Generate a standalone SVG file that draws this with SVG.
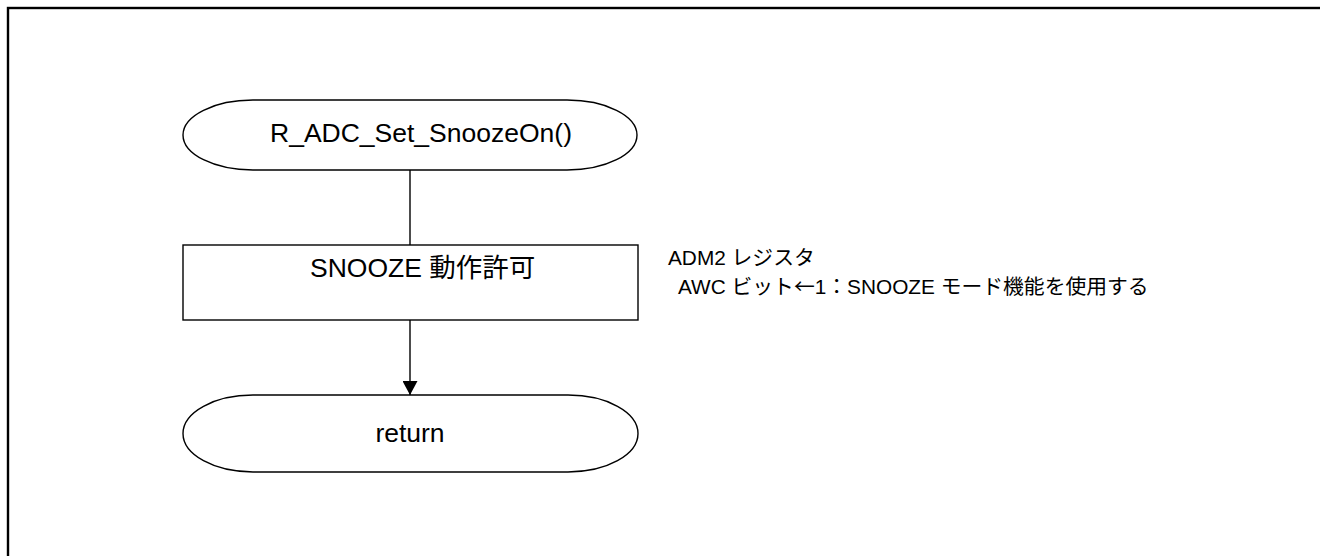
<svg xmlns="http://www.w3.org/2000/svg" width="1320" height="556" viewBox="0 0 1320 556">
<defs>
<style>
.shape{fill:#fff;stroke:#000;stroke-width:1.4}
.conn{fill:none;stroke:#000;stroke-width:1.4}
.t{font-family:"Liberation Sans","Noto Sans CJK JP",Arial,sans-serif;fill:#000}
.cjk{font-family:"Noto Sans CJK JP","Liberation Sans",sans-serif}
.big{font-size:26.5px}
.small{font-size:20.8px}
</style>
<marker id="arr" markerWidth="16" markerHeight="15" refX="15" refY="8" orient="auto" markerUnits="userSpaceOnUse" viewBox="0 0 16 16">
<path d="M0,0 L15,8 L0,16 Z" fill="#000"/>
</marker>
</defs>
<rect x="8" y="8" width="1340" height="570" fill="none" stroke="#000" stroke-width="2.4"/>
<g id="connectors">
<line class="conn" x1="410" y1="170" x2="410" y2="245"/>
<line class="conn" x1="410" y1="320" x2="410" y2="395" marker-end="url(#arr)"/>
</g>
<g id="start">
<path class="shape" d="M253,100 L567,100 A70,35 0 0 1 567,170 L253,170 A70,35 0 0 1 253,100 Z"/>
<text class="t big" x="270" y="142">R_ADC_Set_SnoozeOn()</text>
</g>
<g id="process">
<rect class="shape" x="183" y="245" width="455" height="75"/>
<text class="t big" x="310" y="277">SNOOZE 動作許可</text>
</g>
<g id="note">
<text class="t small" x="668" y="265">ADM2 レジスタ</text>
<text class="t small" x="678" y="294">AWC ビット<tspan class="cjk">←</tspan>1：SNOOZE モード機能を使用する</text>
</g>
<g id="end">
<path class="shape" d="M253,395 L568,395 A70,38.5 0 0 1 568,472 L253,472 A70,38.5 0 0 1 253,395 Z"/>
<text class="t big" x="410" y="442" text-anchor="middle">return</text>
</g>
</svg>
